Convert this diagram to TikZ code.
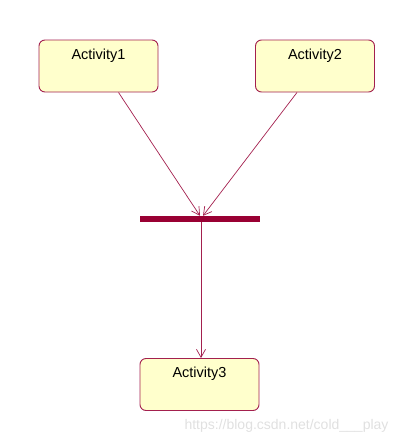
\documentclass[tikz,border=0pt]{standalone}
\usepackage{fontspec}
\setmainfont{Liberation Sans}
\usetikzlibrary{arrows.meta}
\definecolor{umlred}{HTML}{A3204E}
\definecolor{umlyellow}{HTML}{FFFFCC}
\definecolor{barred}{HTML}{990033}
\begin{document}
\begin{tikzpicture}[x=1pt,y=-1pt]
        \tikzstyle{activity}=[rectangle,rounded corners=6pt,draw=umlred,line width=0.9pt,fill=umlyellow,minimum width=119pt,minimum height=52pt,font=\fontsize{14.5}{16}\selectfont,text height=11pt,text depth=25pt]
        \tikzstyle{fork}=[rectangle,fill=barred,inner sep=0pt,minimum width=120pt,minimum height=6pt]
        \tikzstyle{edge}=[draw=umlred,line width=0.7pt,-{Straight Barb[length=8pt,width=9pt]}]
        \useasboundingbox (0,0) rectangle (400,442);
       \begin{scope}
         \node [activity] (a1) at (98.5,66) {Activity1};
         \node [activity] (a2) at (315,66) {Activity2};
         \node [fork] (join) at (200,219) {};
         \node [activity] (a3) at (199.5,384.5) {Activity3};

         \path[edge] ([xshift=20pt]a1.south) -- ([xshift=0pt]join.north);
         \path[edge] ([xshift=-18pt]a2.south) -- ([xshift=3pt]join.north);
         \path[edge] ([xshift=1pt]join.south) -- ([xshift=1.5pt]a3.north);

         \node [text=black!12,font=\fontsize{14}{16}\selectfont,anchor=east] (mark) at (392,426) {https://blog.csdn.net/cold\_\_\_play};
        \end{scope}
      \end{tikzpicture}
\end{document}
